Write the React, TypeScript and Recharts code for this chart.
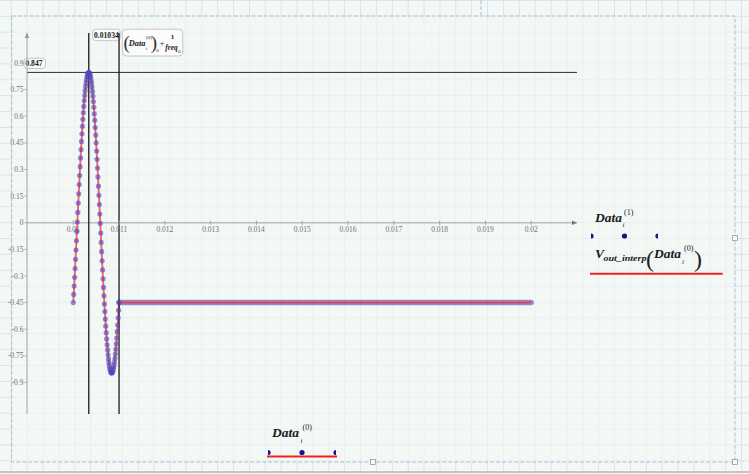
import React from 'react';
import { ComposedChart, Line, XAxis, YAxis, ReferenceLine, ReferenceDot } from 'recharts';

// Sample times of one captured period (s)
const waveTimes = [
  0.01, 0.01001, 0.01002, 0.01003, 0.01004, 0.01005, 0.01006, 0.01007, 0.01008, 0.01009,
  0.0101, 0.01011, 0.01012, 0.01013, 0.01014, 0.01015, 0.01016, 0.01017, 0.01018, 0.01019,
  0.0102, 0.01021, 0.01022, 0.01023, 0.01024, 0.01025, 0.01026, 0.01027, 0.01028, 0.01029,
  0.0103, 0.01031, 0.01032, 0.01033, 0.01034, 0.01035, 0.01036, 0.01037, 0.01038, 0.01039,
  0.0104, 0.01041, 0.01042, 0.01043, 0.01044, 0.01045, 0.01046, 0.01047, 0.01048, 0.01049,
  0.0105, 0.01051, 0.01052, 0.01053, 0.01054, 0.01055, 0.01056, 0.01057, 0.01058, 0.01059,
  0.0106, 0.01061, 0.01062, 0.01063, 0.01064, 0.01065, 0.01066, 0.01067, 0.01068, 0.01069,
  0.0107, 0.01071, 0.01072, 0.01073, 0.01074, 0.01075, 0.01076, 0.01077, 0.01078, 0.01079,
  0.0108, 0.01081, 0.01082, 0.01083, 0.01084, 0.01085, 0.01086, 0.01087, 0.01088, 0.01089,
  0.0109, 0.01091, 0.01092, 0.01093, 0.01094, 0.01095, 0.01096, 0.01097, 0.01098, 0.01099,
  0.011,
];

// Data^(1) values
const signalValues = [
  -0.45, -0.404, -0.357, -0.308, -0.258, -0.206, -0.154, -0.102, -0.049, 0.004,
  0.058, 0.111, 0.163, 0.215, 0.266, 0.316, 0.365, 0.412, 0.458, 0.501,
  0.543, 0.583, 0.62, 0.655, 0.688, 0.717, 0.744, 0.768, 0.789, 0.807,
  0.822, 0.833, 0.841, 0.846, 0.847, 0.845, 0.84, 0.831, 0.819, 0.804,
  0.786, 0.764, 0.74, 0.713, 0.683, 0.65, 0.614, 0.577, 0.536, 0.494,
  0.45, 0.404, 0.357, 0.308, 0.258, 0.206, 0.154, 0.102, 0.049, -0.004,
  -0.058, -0.111, -0.163, -0.215, -0.266, -0.316, -0.365, -0.412, -0.458, -0.501,
  -0.543, -0.583, -0.62, -0.655, -0.688, -0.717, -0.744, -0.768, -0.789, -0.807,
  -0.822, -0.833, -0.841, -0.846, -0.847, -0.845, -0.84, -0.831, -0.819, -0.804,
  -0.786, -0.764, -0.74, -0.713, -0.683, -0.65, -0.614, -0.577, -0.536, -0.494,
  -0.45,
];

// Held value after the period
const holdTimes = [0.011, 0.02];
const holdValues = [-0.45, -0.45];

const xTicks = [0.01, 0.011, 0.012, 0.013, 0.014, 0.015, 0.016, 0.017, 0.018, 0.019, 0.02];
const xTickLabels = ['0.01', '0.011', '0.012', '0.013', '0.014', '0.015', '0.016', '0.017', '0.018', '0.019', '0.02'];
const yTicks = [-0.9, -0.75, -0.6, -0.45, -0.3, -0.15, 0, 0.15, 0.3, 0.45, 0.6, 0.75, 0.9];

const xDomain = [0.00899, 0.021];
const yDomain = [-1.078, 1.069];

const markerPeakTime = 0.010339;
const markerPeakTimeLabel = '0.01034';
const markerPeriodEnd = 0.011;
const markerPeakValue = 0.847;
const markerPeakValueLabel = '0.847';

const waveData = waveTimes.map((t, i) => ({ t, v: signalValues[i] }));
const holdData = holdTimes.map((t, i) => ({ t, v: holdValues[i] }));
const interpData = [...waveData, ...holdData];

const SERIF = '"Liberation Serif", "DejaVu Serif", serif';
const BG = '#f4f8f5';
const DOT = '#5048bc';
const RED = '#ff2a2a';

const XTick = ({ cx, cy, label }: any) => (
  <g>
    <line x1={cx} x2={cx} y1={cy - 2.2} y2={cy + 2.2} stroke="#a8a8a8" strokeWidth={1} />
    <text x={cx} y={cy + 9.6} textAnchor="middle" fontSize={7.5} fill="#707070" fontFamily={SERIF}>
      {label}
    </text>
  </g>
);

const YTick = ({ x, y, payload }: any) => (
  <text x={x} y={y + 2.6} textAnchor="end" fontSize={7.5} fill="#707070" fontFamily={SERIF}>
    {String(payload.value)}
  </text>
);

const PeakTimeLabel = (props: any) => {
  const { x, y } = props.viewBox;
  return (
    <g>
      <rect x={x + 4} y={y - 3.8} width={27.5} height={11.5} rx={3} fill="#fbfbfb" stroke="#b8b8b8" strokeWidth={0.8} />
      <text x={x + 5.3} y={y + 5.2} fontSize={7.6} fontWeight="bold" fill="#222" fontFamily={SERIF}>
        {markerPeakTimeLabel}
      </text>
    </g>
  );
};

const PeriodEndLabel = (props: any) => {
  const { x, y } = props.viewBox;
  const bx = x + 3.3;
  const by = y - 3.8;
  return (
    <g fontFamily={SERIF} fill="#222">
      <rect x={bx} y={by} width={60.4} height={26.8} rx={4} fill="#fbfbfb" stroke="#b8b8b8" strokeWidth={0.8} />
      <text x={bx + 1.2} y={by + 20} fontSize={19} fill="#333">(</text>
      <text x={bx + 6.3} y={by + 16.5} fontSize={8.4} fontWeight="bold" fontStyle="italic">Data</text>
      <text x={bx + 23.6} y={by + 9.5} fontSize={5}>(0)</text>
      <text x={bx + 23.6} y={by + 21} fontSize={5} fontStyle="italic">i</text>
      <text x={bx + 28.5} y={by + 20} fontSize={19} fill="#333">)</text>
      <text x={bx + 34} y={by + 22.5} fontSize={5}>0</text>
      <text x={bx + 37.5} y={by + 16.5} fontSize={8.5}>+</text>
      <text x={bx + 48.5} y={by + 10} fontSize={7} fontWeight="bold">1</text>
      <text x={bx + 43} y={by + 21} fontSize={7.4} fontWeight="bold" fontStyle="italic">freq</text>
      <text x={bx + 56} y={by + 24} fontSize={4.5}>0</text>
    </g>
  );
};

const PeakValueLabel = (props: any) => {
  const { x, y } = props.viewBox;
  return (
    <g>
      <rect x={x - 3} y={y - 14.2} width={21.5} height={10.3} rx={3} fill="#fbfbfb" stroke="#b8b8b8" strokeWidth={0.8} />
      <text x={x - 1.6} y={y - 6.3} fontSize={7.6} fontWeight="bold" fill="#222" fontFamily={SERIF}>
        {markerPeakValueLabel}
      </text>
    </g>
  );
};

const ArrowRight = ({ cx, cy }: any) => (
  <path d={`M${cx - 5},${cy - 2.3} L${cx},${cy} L${cx - 5},${cy + 2.3} Z`} fill="#777" />
);
const ArrowUp = ({ cx, cy }: any) => (
  <path d={`M${cx - 2.3},${cy + 5} L${cx},${cy} L${cx + 2.3},${cy + 5} Z`} fill="#999" />
);

const LegendDots = ({ xs, y, id }: { xs: number[]; y: number; id: string }) => (
  <g>
    <defs>
      <clipPath id={id}>
        <rect x={xs[0]} y={y - 5} width={xs[xs.length - 1] - xs[0]} height={10} />
      </clipPath>
    </defs>
    <g clipPath={`url(#${id})`}>
      {xs.map((x) => (
        <circle key={x} cx={x} cy={y} r={2.6} fill="#14148c" />
      ))}
    </g>
  </g>
);

export default function App() {
  const gridOuter = '#d3e4f1';
  return (
    <div
      style={{
        position: 'absolute',
        left: 0,
        top: 0,
        width: 749,
        height: 474,
        overflow: 'hidden',
        backgroundColor: BG,
        backgroundImage: `linear-gradient(to right, ${gridOuter} 1px, transparent 1px), linear-gradient(to bottom, ${gridOuter} 1px, transparent 1px)`,
        backgroundSize: '15.875px 15.875px',
        backgroundPosition: '10.8px -0.1px',
      }}
    >
      <div
        style={{
          position: 'absolute',
          left: 12,
          top: 16,
          width: 723,
          height: 446,
          backgroundColor: 'rgba(244,248,245,0.6)',
        }}
      />
      <div style={{ position: 'absolute', left: 0, top: 0 }}>
        <ComposedChart width={749} height={474} margin={{ top: 33, right: 172, bottom: 60, left: 0 }}>
          <XAxis type="number" dataKey="t" domain={xDomain} allowDataOverflow hide />
          <YAxis
            type="number"
            domain={yDomain}
            allowDataOverflow
            ticks={yTicks}
            interval={0}
            width={27}
            tickSize={2.5}
            tickMargin={1}
            stroke="#a8a8a8"
            tickLine={{ stroke: '#a8a8a8' }}
            tick={<YTick />}
          />
          <ReferenceLine y={0} stroke="#bdbdbd" strokeWidth={1.6} />
          {xTicks.map((t, i) => (
            <ReferenceDot
              key={t}
              x={t}
              y={0}
              r={0}
              ifOverflow="visible"
              shape={(p: any) => <XTick cx={p.cx} cy={p.cy} label={xTickLabels[i]} />}
            />
          ))}
          <ReferenceDot x={xDomain[1]} y={0} r={0} ifOverflow="visible" shape={(p: any) => <ArrowRight cx={p.cx} cy={p.cy} />} />
          <ReferenceDot x={xDomain[0]} y={yDomain[1]} r={0} ifOverflow="visible" shape={(p: any) => <ArrowUp cx={p.cx} cy={p.cy} />} />

          <Line
            data={holdData}
            dataKey="v"
            stroke={DOT}
            strokeOpacity={0.62}
            strokeWidth={5.4}
            strokeLinecap="round"
            dot={false}
            activeDot={false}
            isAnimationActive={false}
          />
          <Line
            data={waveData}
            dataKey="v"
            stroke="none"
            dot={{ r: 2.6, fill: DOT, fillOpacity: 0.62, stroke: 'none' }}
            activeDot={false}
            isAnimationActive={false}
          />
          <Line
            data={interpData}
            dataKey="v"
            stroke={RED}
            strokeOpacity={0.72}
            strokeWidth={1.9}
            dot={false}
            activeDot={false}
            isAnimationActive={false}
          />

          <ReferenceLine y={markerPeakValue} stroke="#2a2a2a" strokeWidth={1} label={PeakValueLabel} />
          <ReferenceLine x={markerPeakTime} stroke="#1a1a1a" strokeWidth={1.3} label={PeakTimeLabel} />
          <ReferenceLine x={markerPeriodEnd} stroke="#1a1a1a" strokeWidth={1.3} label={PeriodEndLabel} />
        </ComposedChart>
      </div>
      <svg
        width={749}
        height={474}
        style={{ position: 'absolute', left: 0, top: 0, pointerEvents: 'none' }}
        fontFamily={SERIF}
      >
        {/* region boundary */}
        <rect x={11.7} y={16} width={723.3} height={446} fill="none" stroke="#a9bfd0" strokeWidth={1} strokeDasharray="4 2" />
        <line x1={481} x2={481} y1={0} y2={15} stroke="#a9bfd0" strokeDasharray="4 2" />
        <line x1={0} x2={749} y1={472} y2={472} stroke="#b5b5b5" strokeWidth={1.5} />
        {[
          [735, 238],
          [373, 462],
          [735, 462],
        ].map(([hx, hy]) => (
          <rect key={`${hx}-${hy}`} x={hx - 2.5} y={hy - 2.5} width={5} height={5} fill="#f8f8f8" stroke="#9a9a9a" strokeWidth={0.8} />
        ))}

        {/* right legend: Data_i^(1) */}
        <g fill="#1a1a1a">
          <text x={595} y={222} fontSize={13.5} fontWeight="bold" fontStyle="italic">Data</text>
          <text x={624} y={215} fontSize={8}>(1)</text>
          <text x={622.5} y={227} fontSize={7} fontStyle="italic">i</text>
        </g>
        <LegendDots xs={[591, 624.5, 658]} y={236} id="lgdots1" />
        <g fill="#1a1a1a">
          <text x={595} y={258} fontSize={13.5} fontWeight="bold" fontStyle="italic">V</text>
          <text x={603.5} y={261} fontSize={8.5} fontWeight="bold" fontStyle="italic" textLength={43} lengthAdjust="spacingAndGlyphs">out_interp</text>
          <text x={646} y={267} fontSize={24} fill="#222">(</text>
          <text x={654} y={258} fontSize={13.5} fontWeight="bold" fontStyle="italic">Data</text>
          <text x={684} y={251} fontSize={8}>(0)</text>
          <text x={682} y={264} fontSize={7} fontStyle="italic">i</text>
          <text x={694} y={267} fontSize={24} fill="#222">)</text>
        </g>
        <line x1={590} x2={722.7} y1={273.7} y2={273.7} stroke="#ee2222" strokeWidth={2} />

        {/* bottom x label: Data_i^(0) */}
        <g fill="#1a1a1a">
          <text x={272} y={437} fontSize={13.5} fontWeight="bold" fontStyle="italic">Data</text>
          <text x={302.5} y={430} fontSize={8}>(0)</text>
          <text x={300.5} y={443} fontSize={7} fontStyle="italic">i</text>
        </g>
        <LegendDots xs={[268, 302, 336]} y={452.5} id="lgdots0" />
        <line x1={267} x2={337} y1={456.5} y2={456.5} stroke="#ee2222" strokeWidth={2} />
      </svg>
    </div>
  );
}
